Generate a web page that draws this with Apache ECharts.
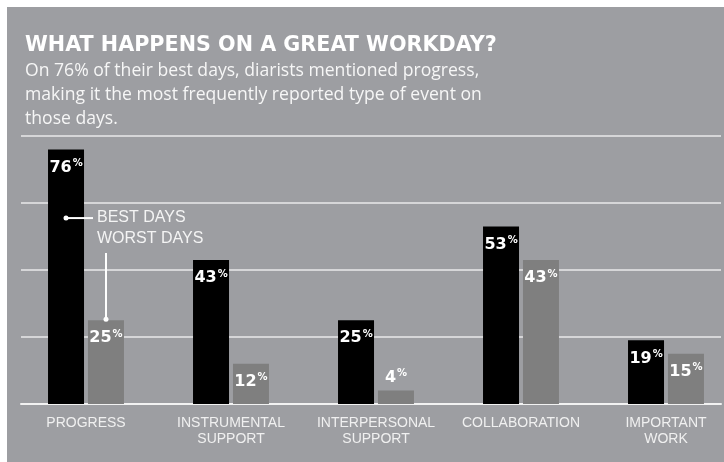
<!DOCTYPE html>
<html>
<head>
<meta charset="utf-8">
<script src="https://cdn.jsdelivr.net/npm/echarts@6/dist/echarts.min.js"></script>
<style>
  html, body { margin: 0; padding: 0; background: #fff; }
  #chart { width: 724px; height: 462px; }
</style>
</head>
<body>
<div id="chart"></div>
<script>
// data
const categories = ['PROGRESS', 'INSTRUMENTAL\nSUPPORT', 'INTERPERSONAL\nSUPPORT', 'COLLABORATION', 'IMPORTANT\nWORK']
const bestDays = [76, 43, 25, 53, 19]
const worstDays = [25, 12, 4, 43, 15]
const yMin = 0
const yMax = 80
const yStep = 20

const panel = '#9d9ea2'
const white = '#ffffff'

const pctLabel = function(p) {
  return '{v|' + p.value + '}{p|%}'
}
const labelRich = {
  v: { fontFamily: 'DejaVu Sans', fontWeight: 'bold', fontSize: 16, color: white, lineHeight: 18 },
  p: { fontFamily: 'DejaVu Sans', fontWeight: 'bold', fontSize: 10, color: white, lineHeight: 18, verticalAlign: 'top', padding: [0, 0, 6, 1] }
}
const barLabel = { show: true, position: 'insideTop', distance: 9, formatter: pctLabel, rich: labelRich }

// short bars carry their number above the bar
const toItems = function(arr) {
  return arr.map(function(v) {
    if (v < 8) return { value: v, label: { position: 'top', distance: 4 } }
    return v
  })
}

const chart = echarts.init(document.getElementById('chart'))

const option = {
  backgroundColor: '#ffffff',
  animation: false,
  title: {
    left: 25,
    top: 35,
    padding: 0,
    text: 'WHAT HAPPENS ON A GREAT WORKDAY?',
    textStyle: { fontFamily: 'DejaVu Sans', fontWeight: 'bold', fontSize: 20.7, color: white, lineHeight: 22 },
    subtext: 'On 76% of their best days, diarists mentioned progress,\nmaking it the most frequently reported type of event on\nthose days.',
    subtextStyle: { fontFamily: 'Open Sans', fontSize: 17.6, color: '#f6f6f6', lineHeight: 24 },
    itemGap: 2
  },
  graphic: [
    { type: 'rect', z: -10, shape: { x: 7, y: 7, width: 717, height: 455 }, style: { fill: panel } }
  ],
  grid: [
    { left: 21, right: 3, top: 136, height: 268 },
    { left: 86, width: 580, top: 136, height: 268 }
  ],
  xAxis: [
    {
      type: 'category', gridIndex: 0, data: categories,
      axisLine: { lineStyle: { color: '#f2f2f2', width: 2 } },
      axisTick: { show: false }, axisLabel: { show: false }
    },
    {
      type: 'category', gridIndex: 1, data: categories, boundaryGap: false,
      axisLine: { show: false }, axisTick: { show: false },
      axisLabel: { interval: 0, color: '#f0f0f0', fontFamily: 'Liberation Sans', fontSize: 14, lineHeight: 16, margin: 11 }
    }
  ],
  yAxis: [
    {
      type: 'value', gridIndex: 0, min: yMin, max: yMax, interval: yStep,
      axisLine: { show: false }, axisTick: { show: false }, axisLabel: { show: false },
      splitLine: { lineStyle: { color: '#d6d6d8', width: 2 } }
    },
    {
      type: 'value', gridIndex: 1, min: yMin, max: yMax, interval: yStep,
      axisLine: { show: false }, axisTick: { show: false }, axisLabel: { show: false },
      splitLine: { show: false }
    }
  ],
  series: [
    {
      name: 'BEST DAYS', type: 'bar', xAxisIndex: 1, yAxisIndex: 1,
      data: toItems(bestDays), barWidth: 36, barGap: '11%',
      itemStyle: { color: '#000000' }, label: barLabel
    },
    {
      name: 'WORST DAYS', type: 'bar', xAxisIndex: 1, yAxisIndex: 1,
      data: toItems(worstDays), barWidth: 36, barGap: '11%',
      itemStyle: { color: '#7f7f7f' }, label: barLabel
    }
  ]
}

chart.setOption(option)

// legend callouts tied to the first category's bars
const bestPt = chart.convertToPixel({ xAxisIndex: 1, yAxisIndex: 1 }, [0, 55.5])
const worstPt = chart.convertToPixel({ xAxisIndex: 1, yAxisIndex: 1 }, [0, worstDays[0]])
const bx = bestPt[0] - 20
const by = bestPt[1]
const wx = worstPt[0] + 20
const wy = worstPt[1] - 1
const calloutFont = { fontFamily: 'Liberation Sans', fontSize: 16, fill: '#f4f4f4' }

chart.setOption({
  graphic: [
    { type: 'rect', z: -10, shape: { x: 7, y: 7, width: 717, height: 455 }, style: { fill: panel } },
    { type: 'line', z: 50, shape: { x1: bx, y1: by, x2: bx + 27, y2: by }, style: { stroke: white, lineWidth: 2 } },
    { type: 'circle', z: 50, shape: { cx: bx, cy: by, r: 2.5 }, style: { fill: white } },
    { type: 'text', z: 50, x: bx + 31, y: by - 8, style: Object.assign({ text: 'BEST DAYS' }, calloutFont) },
    { type: 'text', z: 50, x: bx + 31, y: by + 13, style: Object.assign({ text: 'WORST DAYS' }, calloutFont) },
    { type: 'line', z: 50, shape: { x1: wx, y1: by + 35, x2: wx, y2: wy }, style: { stroke: white, lineWidth: 2 } },
    { type: 'circle', z: 50, shape: { cx: wx, cy: wy, r: 2.5 }, style: { fill: white } }
  ]
})
</script>
</body>
</html>
